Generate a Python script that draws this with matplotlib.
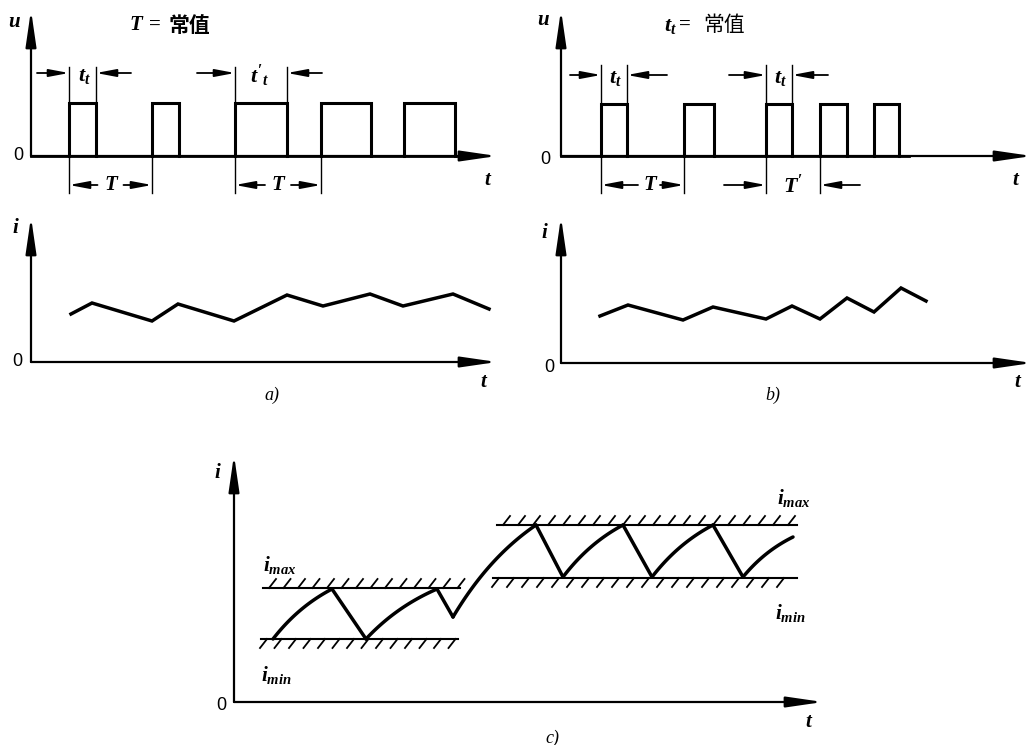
import numpy as np
import matplotlib
matplotlib.use("Agg")
import matplotlib.pyplot as plt

plt.rcParams['mathtext.fontset'] = 'custom'
plt.rcParams['mathtext.rm'] = 'Liberation Serif:bold'
plt.rcParams['mathtext.it'] = 'Liberation Serif:italic:bold'
plt.rcParams['mathtext.bf'] = 'Liberation Serif:bold'

W, H = 1035, 745

# values, panel units (about 1 unit = 1 px, origin at the axes corner)
# a) T fixed, pulse width changes
a_pulse_on = [38, 121, 204, 290, 373]
a_pulse_off = [65, 148, 256, 340, 424]
a_u_high = 53
a_i_t = [40, 61, 121, 147, 203, 256, 292, 339, 372, 422, 458]
a_i = [48, 59, 41, 58, 41, 67, 56, 68, 56, 68, 53]

# b) t_t fixed, period changes
b_pulse_on = [40, 123, 205, 259, 313]
b_pulse_off = [66, 153, 231, 286, 338]
b_u_high = 52
b_i_t = [39, 67, 122, 152, 205, 231, 259, 286, 313, 340, 365]
b_i = [47, 58, 43, 56, 44, 57, 44, 65, 51, 75, 62]

# c) current held between i_min and i_max (r = rising curve, f = straight fall)
c_t = [39, 98, 132, 203, 219, 302, 329, 389, 418, 479, 509, 559]
c_i = [63, 113, 63, 113, 85, 177, 125, 177, 125, 177, 125, 165]
c_seg = ['r', 'f', 'r', 'f', 'r', 'f', 'r', 'f', 'r', 'f', 'r']
band_y = [114, 63, 177, 124]
band_x0 = [29, 27, 263, 259]
band_x1 = [226, 224, 563, 563]
band_side = [1, -1, 1, -1]

LAB = dict(family='Liberation Serif', style='italic', weight='bold', fontsize=15)
ZERO = dict(family='Liberation Sans', fontsize=13, ha='center', va='center')

fig = plt.figure(figsize=(W / 100, H / 100), dpi=100)
fig.patch.set_facecolor('white')


def panel(ox, oy, left, right, top, bottom):
    ax = fig.add_axes([(ox - left) / W, (H - oy - bottom) / H, (left + right) / W, (top + bottom) / H])
    ax.set_xlim(-left, right)
    ax.set_ylim(-bottom, top)
    ax.axis('off')
    ax.patch.set_alpha(0)
    return ax


def arrow(ax, x0, y0, x1, y1, lw=1.3, ms=7, hl=1.7, hw=0.32):
    ax.annotate('', xy=(x1, y1), xytext=(x0, y0),
                arrowprops=dict(arrowstyle='-|>,head_length=%g,head_width=%g' % (hl, hw),
                                lw=lw, color='k', mutation_scale=ms, shrinkA=0, shrinkB=0),
                annotation_clip=False)


def axes_lines(ax, xlen, ylen):
    arrow(ax, 0, 0, xlen, 0, lw=1.6, ms=10, hl=2.2, hw=0.32)
    arrow(ax, 0, 0, 0, ylen, lw=1.6, ms=10, hl=2.2, hw=0.32)


def pulses(ax, on, off, h):
    for a, b in zip(on, off):
        ax.plot([a, a, b, b], [0, h, h, 0], color='k', lw=2.2, solid_joinstyle='miter', clip_on=False)
    ax.plot([0, off[-1] + 10], [0, 0], color='k', lw=2.0, clip_on=False)


def vline(ax, x, y0, y1):
    ax.plot([x, x], [y0, y1], color='k', lw=1.0, clip_on=False)


# ---------- a) top ----------
ax = panel(31, 156, 31, 480, 156, 50)
axes_lines(ax, 466, 146)
pulses(ax, a_pulse_on, a_pulse_off, a_u_high)
ax.text(-17, 134, 'u', ha='center', va='center', **LAB)
ax.text(-13, 0, '0', **ZERO)
ax.text(456, -24, 't', ha='center', va='center', **LAB)
ax.text(105, 131, 'T', ha='center', va='center', **LAB)
ax.text(124, 131, '=', ha='center', va='center', family='Liberation Serif', weight='bold', fontsize=15)
ax.text(158, 131, '常值', ha='center', va='center', family='Noto Sans CJK SC', weight='bold', fontsize=15)
# pulse width marks
for x in (a_pulse_on[0], a_pulse_off[0], a_pulse_on[2], a_pulse_off[2]):
    vline(ax, x, a_u_high, 89)
arrow(ax, 6, 83, a_pulse_on[0], 83)
arrow(ax, 100, 83, a_pulse_off[0], 83)
ax.text(53, 80, r'$t_t$', ha='center', va='center', fontsize=16)
arrow(ax, 166, 83, a_pulse_on[2], 83)
arrow(ax, 291, 83, a_pulse_off[2], 83)
ax.text(229, 80, r"$t'_t$", ha='center', va='center', fontsize=16)
# period marks
for x0, x1 in ((a_pulse_on[0], a_pulse_on[1]), (a_pulse_on[2], a_pulse_on[3])):
    vline(ax, x0, 0, -37)
    vline(ax, x1, 0, -37)
    mid = (x0 + x1) / 2
    arrow(ax, mid - 13, -29, x0, -29)
    arrow(ax, mid + 13, -29, x1, -29)
    ax.text(mid, -29, 'T', ha='center', va='center', **LAB)

# ---------- a) bottom ----------
ax = panel(31, 362, 31, 480, 150, 45)
axes_lines(ax, 466, 145)
ax.plot(a_i_t, a_i, color='k', lw=2.5, solid_joinstyle='miter', clip_on=False)
ax.text(-16, 134, 'i', ha='center', va='center', **LAB)
ax.text(-14, 0, '0', **ZERO)
ax.text(452, -20, 't', ha='center', va='center', **LAB)
ax.text(241, -33, 'a)', ha='center', va='center', family='Liberation Serif', style='italic', fontsize=13)

# ---------- b) top ----------
ax = panel(561, 156, 30, 474, 156, 50)
axes_lines(ax, 471, 146)
pulses(ax, b_pulse_on, b_pulse_off, b_u_high)
ax.text(-18, 136, 'u', ha='center', va='center', **LAB)
ax.text(-16, -3, '0', **ZERO)
ax.text(454, -24, 't', ha='center', va='center', **LAB)
ax.text(109, 130, r'$t_t$', ha='center', va='center', fontsize=16)
ax.text(124, 131, '=', ha='center', va='center', family='Liberation Serif', weight='bold', fontsize=15)
ax.text(163, 131, '常值', ha='center', va='center', family='Noto Sans CJK SC', fontsize=15)
for x in (b_pulse_on[0], b_pulse_off[0], b_pulse_on[2], b_pulse_off[2]):
    vline(ax, x, b_u_high, 91)
arrow(ax, 9, 81, b_pulse_on[0], 81)
arrow(ax, 106, 81, b_pulse_off[0], 81)
ax.text(54, 78, r'$t_t$', ha='center', va='center', fontsize=16)
arrow(ax, 168, 81, b_pulse_on[2], 81)
arrow(ax, 267, 81, b_pulse_off[2], 81)
ax.text(219, 78, r'$t_t$', ha='center', va='center', fontsize=16)
# T and T'
vline(ax, b_pulse_on[0], 0, -37)
vline(ax, b_pulse_on[1], 0, -37)
arrow(ax, 77, -29, b_pulse_on[0], -29)
arrow(ax, 99, -29, b_pulse_on[1], -29)
ax.text(89, -29, 'T', ha='center', va='center', **LAB)
vline(ax, b_pulse_on[2], 0, -37)
vline(ax, b_pulse_on[3], 0, -37)
arrow(ax, 163, -29, b_pulse_on[2], -29)
arrow(ax, 299, -29, b_pulse_on[3], -29)
ax.text(232, -29, r"$T'$", ha='center', va='center', fontsize=16)

# ---------- b) bottom ----------
ax = panel(561, 363, 30, 474, 150, 45)
axes_lines(ax, 471, 146)
ax.plot(b_i_t, b_i, color='k', lw=2.5, solid_joinstyle='miter', clip_on=False)
ax.text(-17, 130, 'i', ha='center', va='center', **LAB)
ax.text(-12, -4, '0', **ZERO)
ax.text(456, -19, 't', ha='center', va='center', **LAB)
ax.text(212, -32, 'b)', ha='center', va='center', family='Liberation Serif', style='italic', fontsize=13)

# ---------- c) ----------
ax = panel(234, 702, 30, 600, 250, 43)
axes_lines(ax, 589, 247)
for y, x0, x1, s in zip(band_y, band_x0, band_x1, band_side):
    ax.plot([x0, x1], [y, y], color='k', lw=1.5, clip_on=False)
    step = 14.5 if x1 - x0 < 250 else 15
    for hx in np.arange(x0 + 6, x1 - 2, step):
        if s > 0:
            ax.plot([hx, hx + 7], [y, y + 9], color='k', lw=1.3, clip_on=False)
        else:
            ax.plot([hx, hx - 7], [y, y - 9], color='k', lw=1.3, clip_on=False)

s = np.linspace(0, 1, 40)
k = 0.9
for j, kind in enumerate(c_seg):
    x0, x1 = c_t[j], c_t[j + 1]
    y0, y1 = c_i[j], c_i[j + 1]
    if kind == 'r':
        f = (1 - np.exp(-k * s)) / (1 - np.exp(-k))
        ax.plot(x0 + (x1 - x0) * s, y0 + (y1 - y0) * f, color='k', lw=2.5, clip_on=False,
                solid_capstyle='round')
    else:
        ax.plot([x0, x1], [y0, y1], color='k', lw=2.5, clip_on=False, solid_capstyle='round')

ax.text(-17, 229, 'i', ha='center', va='center', **LAB)
ax.text(-13, -3, '0', **ZERO)
ax.text(574, -20, 't', ha='center', va='center', **LAB)
ax.text(29, 137, r'$i_{max}$', ha='left', va='center', fontsize=15)
ax.text(27, 27, r'$i_{min}$', ha='left', va='center', fontsize=15)
ax.text(543, 204, r'$i_{max}$', ha='left', va='center', fontsize=15)
ax.text(541, 89, r'$i_{min}$', ha='left', va='center', fontsize=15)
ax.text(318, -36, 'c)', ha='center', va='center', family='Liberation Serif', style='italic', fontsize=13)

fig.savefig('out.png', dpi=100, facecolor='white')
